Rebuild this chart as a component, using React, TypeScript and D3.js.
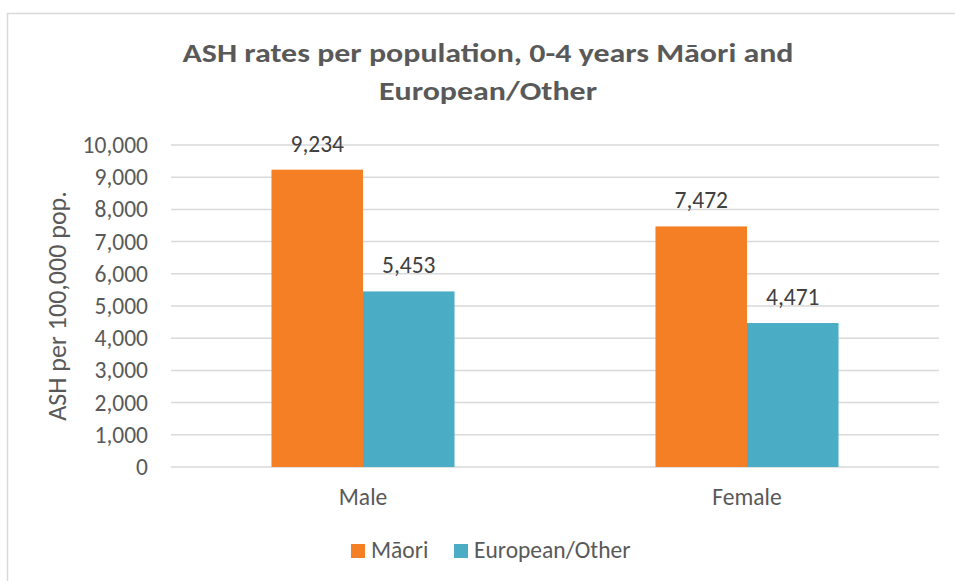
import React from "react";
import * as d3 from "d3";

const categories = ["Male", "Female"];
const seriesNames = ["Māori", "European/Other"];
const maoriValues = [9234, 7472];
const europeanValues = [5453, 4471];
const yTicks = [0, 1000, 2000, 3000, 4000, 5000, 6000, 7000, 8000, 9000, 10000];
const titleLines = ["ASH rates per population, 0-4 years Māori and", "European/Other"];
const yAxisTitle = "ASH per 100,000 pop.";

const colors = ["#F47F24", "#4BACC6"];
const FONT = "Carlito, Calibri, 'Open Sans', sans-serif";
const FS = 23.5;

export default function App() {
  const W = 955, H = 581;
  const plotL = 171, plotR = 939, plotT = 145, plotB = 467;
  const y = d3.scaleLinear().domain([0, 10000]).range([plotB, plotT]);
  const x0 = d3.scaleBand<string>().domain(categories).range([plotL, plotR]).padding(0);
  const x1 = d3
    .scaleBand<string>()
    .domain(seriesNames)
    .range([0, x0.bandwidth()])
    .paddingInner(0)
    .paddingOuter(1.098);
  const seriesValues = [maoriValues, europeanValues];
  const fmt = d3.format(",");

  return (
    <svg width={W} height={H} style={{ position: "absolute", left: 0, top: 0, background: "#fff" }}>
      <rect x={7.5} y={13.5} width={1000} height={1000} fill="#fff" stroke="#d9d9d9" strokeWidth={1.5} />
      {titleLines.map((t, i) => (
        <text
          key={i}
          x={488}
          y={[62, 100][i]}
          textAnchor="middle"
          fontFamily={FONT}
          fontWeight="bold"
          fontSize={26}
          fill="#595959"
          textLength={[611, 218][i]}
          lengthAdjust="spacingAndGlyphs"
        >
          {t}
        </text>
      ))}
      {yTicks.map((t) => (
        <g key={t}>
          <line x1={plotL} x2={plotR} y1={y(t)} y2={y(t)} stroke="#d9d9d9" strokeWidth={1.5} />
          <text
            x={148}
            y={y(t)}
            dy="0.34em"
            textAnchor="end"
            fontFamily={FONT}
            fontSize={FS}
            fill="#595959"
          >
            {fmt(t)}
          </text>
        </g>
      ))}
      <text
        transform={`translate(66,${(plotT + plotB) / 2}) rotate(-90)`}
        textAnchor="middle"
        fontFamily={FONT}
        fontSize={26}
        fill="#595959"
      >
        {yAxisTitle}
      </text>
      {categories.map((c, ci) => (
        <g key={c}>
          {seriesNames.map((s, si) => {
            const v = seriesValues[si][ci];
            const bx = (x0(c) as number) + (x1(s) as number);
            const bw = x1.bandwidth();
            return (
              <g key={s}>
                <rect x={bx} y={y(v)} width={bw} height={plotB - y(v)} fill={colors[si]} />
                <text
                  x={bx + bw / 2}
                  y={y(v) - 18}
                  textAnchor="middle"
                  fontFamily={FONT}
                  fontSize={FS}
                  fill="#404040"
                >
                  {fmt(v)}
                </text>
              </g>
            );
          })}
          <text
            x={(x0(c) as number) + x0.bandwidth() / 2}
            y={505}
            textAnchor="middle"
            fontFamily={FONT}
            fontSize={FS}
            fill="#595959"
          >
            {c}
          </text>
        </g>
      ))}
      {seriesNames.map((s, i) => {
        const lx = [351, 454][i];
        return (
          <g key={s}>
            <rect x={lx} y={544} width={14} height={14} fill={colors[i]} />
            <text x={lx + 20} y={558} fontFamily={FONT} fontSize={FS} fill="#595959">
              {s}
            </text>
          </g>
        );
      })}
    </svg>
  );
}
